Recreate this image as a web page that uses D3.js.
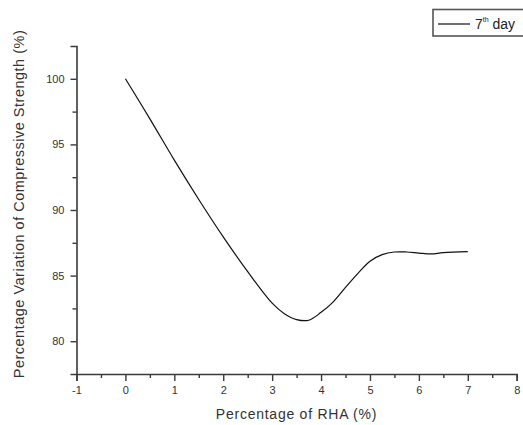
<!DOCTYPE html>
<html><head><meta charset="utf-8">
<script src="https://cdn.jsdelivr.net/npm/d3@7"></script>
<style>
html,body{margin:0;padding:0;background:#fff;overflow:hidden;}
svg{display:block;font-family:"Liberation Sans",Arial,sans-serif;}
</style></head>
<body><svg id="c" width="523" height="425"></svg>
<script>
const rhaPercent = [0, 0.5, 1, 1.5, 2, 2.5, 3, 3.25, 3.5, 3.75, 4, 4.25, 4.5, 4.75, 5, 5.25, 5.5, 5.75, 6, 6.25, 6.5, 7];
const strengthVariation = [100, 96.95, 93.8, 90.8, 87.95, 85.3, 82.9, 82.1, 81.65, 81.6, 82.2, 83.0, 84.1, 85.15, 86.1, 86.6, 86.8, 86.8, 86.72, 86.65, 86.75, 86.82];
const xTicks = [-1, 0, 1, 2, 3, 4, 5, 6, 7, 8];
const yTicks = [80, 85, 90, 95, 100];
const seriesName = "7";
const seriesSup = "th";
const seriesSuffix = " day";
const xTitle = "Percentage of RHA (%)";
const yTitle = "Percentage Variation of Compressive Strength (%)";

const svg = d3.select("#c");
const x = d3.scaleLinear().domain([-1, 8]).range([76.5, 516.7]);
const y = d3.scaleLinear().domain([77.5, 102.5]).range([374, 46]);

const axisColor = "#3a3a3a";
const fmt = d => String(d);

// X axis
const xMinor = d3.range(-0.5, 8, 1);
const gx = svg.append("g").attr("transform", `translate(0,${y(77.5)})`);
gx.call(d3.axisBottom(x).tickValues(xMinor).tickSize(4).tickFormat(""));
const gx2 = svg.append("g").attr("transform", `translate(0,${y(77.5)})`);
gx2.call(d3.axisBottom(x).tickValues(xTicks).tickSize(7).tickPadding(5).tickFormat(fmt));
[gx, gx2].forEach(g => {
  g.select(".domain").attr("stroke", axisColor).attr("stroke-width", 1.6);
  g.selectAll(".tick line").attr("stroke", axisColor).attr("stroke-width", 1.4);
  g.selectAll("text").attr("fill", "#333").attr("font-size", 11).attr("font-family", "Liberation Sans, Arial, sans-serif");
});
gx.select(".domain").remove();

// Y axis
const yMinor = [82.5, 87.5, 92.5, 97.5];
const gy = svg.append("g").attr("transform", `translate(${x(-1)},0)`);
gy.call(d3.axisLeft(y).tickValues(yMinor).tickSize(4).tickFormat(""));
const gy2 = svg.append("g").attr("transform", `translate(${x(-1)},0)`);
gy2.call(d3.axisLeft(y).tickValues(yTicks).tickSize(6).tickPadding(6).tickFormat(fmt));
[gy, gy2].forEach(g => {
  g.select(".domain").attr("stroke", axisColor).attr("stroke-width", 1.6);
  g.selectAll(".tick line").attr("stroke", axisColor).attr("stroke-width", 1.4);
  g.selectAll("text").attr("fill", "#333").attr("font-size", 11).attr("font-family", "Liberation Sans, Arial, sans-serif");
});
gy.select(".domain").remove();

// Curve
const pts = rhaPercent.map((v, i) => [v, strengthVariation[i]]);
const line = d3.line().x(d => x(d[0])).y(d => y(d[1])).curve(d3.curveCatmullRom.alpha(0.5));
svg.append("path").datum(pts).attr("d", line)
  .attr("fill", "none").attr("stroke", "#111").attr("stroke-width", 1.2);

// Axis titles
svg.append("text").attr("x", 296.5).attr("y", 419).attr("text-anchor", "middle")
  .attr("font-size", 14).attr("fill", "#333").attr("letter-spacing", 0.75).text(xTitle);
svg.append("text").attr("transform", "translate(24,204) rotate(-90)").attr("text-anchor", "middle")
  .attr("font-size", 14.5).attr("fill", "#333").attr("letter-spacing", 0.5).text(yTitle);

// Legend
const lg = svg.append("g");
lg.append("rect").attr("x", 433).attr("y", 9.5).attr("width", 100).attr("height", 26.5)
  .attr("fill", "#fff").attr("stroke", "#555").attr("stroke-width", 1.6);
lg.append("line").attr("x1", 438).attr("x2", 470).attr("y1", 24).attr("y2", 24)
  .attr("stroke", "#111").attr("stroke-width", 1.2);
const lt = lg.append("text").attr("x", 475).attr("y", 29).attr("font-size", 14).attr("fill", "#222");
lt.append("tspan").text(seriesName);
lt.append("tspan").attr("font-size", 7).attr("dy", -7).text(seriesSup);
lt.append("tspan").attr("dy", 7).text(seriesSuffix);
</script>
</body></html>
